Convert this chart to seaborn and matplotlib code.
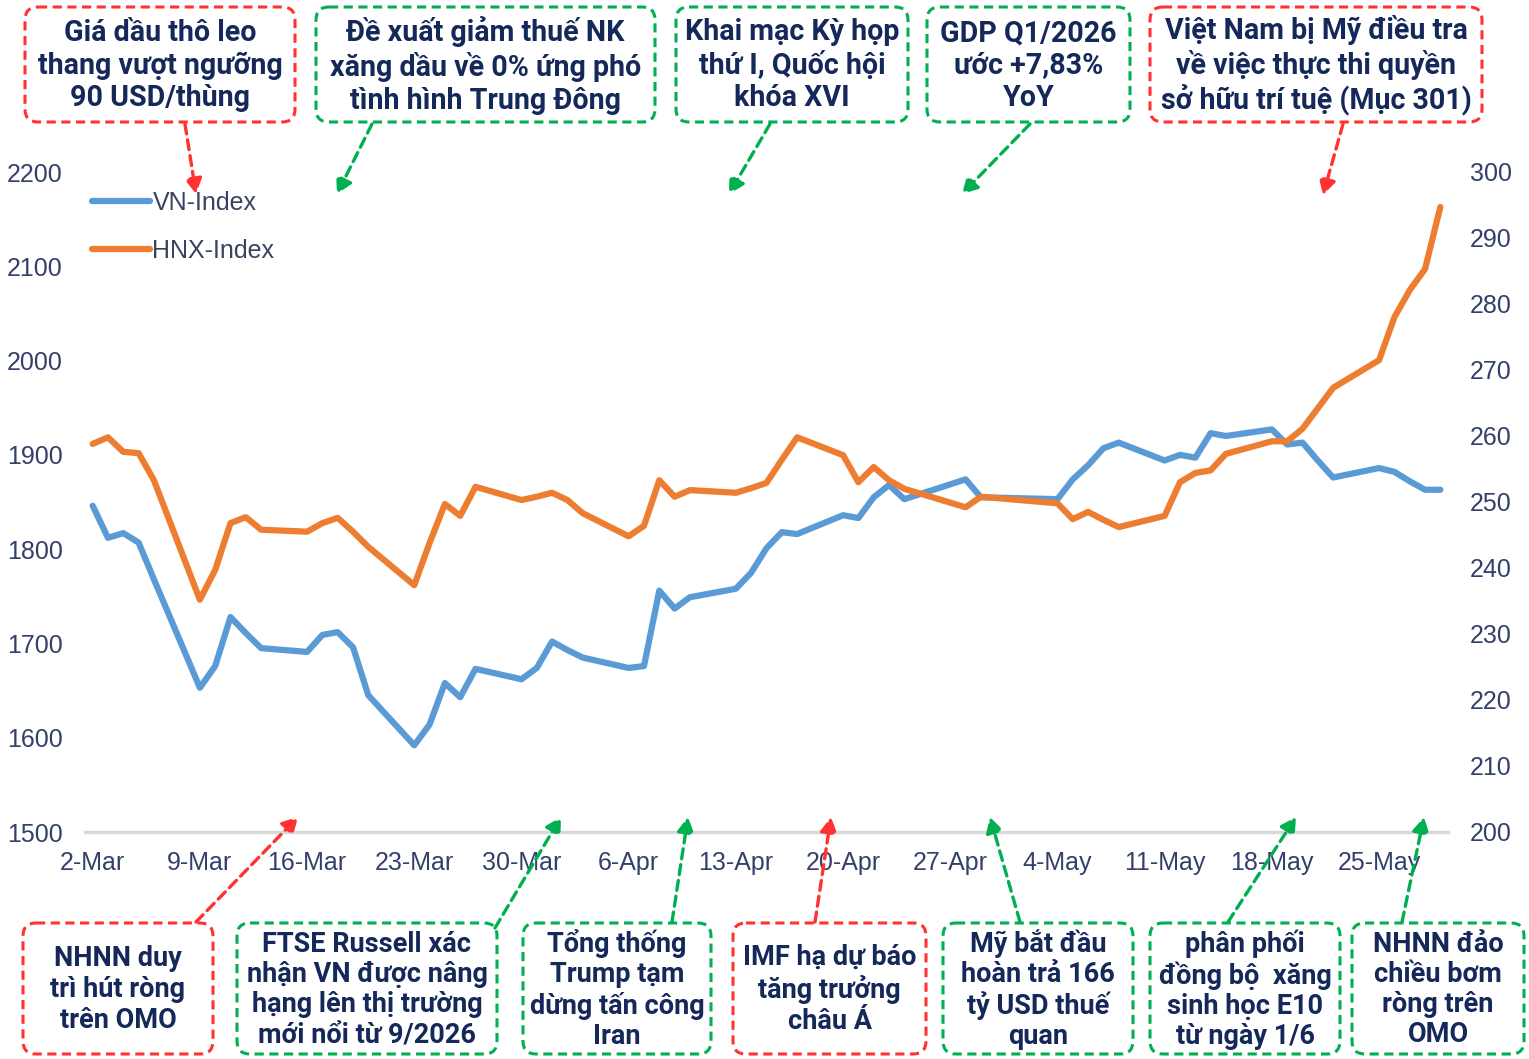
import matplotlib
matplotlib.use('Agg')
import matplotlib.pyplot as plt
import matplotlib.dates as mdates
import matplotlib.ticker as mticker
from matplotlib.patches import FancyBboxPatch
from matplotlib.lines import Line2D
import pandas as pd
import seaborn as sns

# trading days shown on the chart (holidays 27/4, 30/4, 1/5 are missing)
dates = [
    '2026-03-02', '2026-03-03', '2026-03-04', '2026-03-05', '2026-03-06',
    '2026-03-09', '2026-03-10', '2026-03-11', '2026-03-12', '2026-03-13',
    '2026-03-16', '2026-03-17', '2026-03-18', '2026-03-19', '2026-03-20',
    '2026-03-23', '2026-03-24', '2026-03-25', '2026-03-26', '2026-03-27',
    '2026-03-30', '2026-03-31', '2026-04-01', '2026-04-02', '2026-04-03',
    '2026-04-06', '2026-04-07', '2026-04-08', '2026-04-09', '2026-04-10',
    '2026-04-13', '2026-04-14', '2026-04-15', '2026-04-16', '2026-04-17',
    '2026-04-20', '2026-04-21', '2026-04-22', '2026-04-23', '2026-04-24',
    '2026-04-28', '2026-04-29',
    '2026-05-04', '2026-05-05', '2026-05-06', '2026-05-07', '2026-05-08',
    '2026-05-11', '2026-05-12', '2026-05-13', '2026-05-14', '2026-05-15',
    '2026-05-18', '2026-05-19', '2026-05-20', '2026-05-21', '2026-05-22',
    '2026-05-25', '2026-05-26', '2026-05-27', '2026-05-28', '2026-05-29',
]
vn_index = [
    1846, 1812, 1817, 1807, 1768,
    1653, 1676, 1728, 1711, 1695,
    1691, 1709, 1712, 1696, 1645,
    1592, 1614, 1658, 1643, 1673,
    1662, 1674, 1702, 1693, 1685,
    1674, 1676, 1756, 1737, 1749,
    1758, 1775, 1801, 1818, 1816,
    1836, 1833, 1855, 1868, 1853,
    1874, 1855,
    1853, 1874, 1889, 1907, 1913,
    1894, 1900, 1897, 1923, 1920,
    1927, 1911, 1913, 1894, 1876,
    1886, 1882, 1872, 1863, 1863,
]
hnx_index = [
    258.8, 259.8, 257.6, 257.4, 253.3,
    235.2, 239.7, 246.8, 247.7, 245.8,
    245.5, 246.8, 247.6, 245.5, 243.2,
    237.4, 243.8, 249.7, 247.9, 252.3,
    250.3, 250.8, 251.4, 250.3, 248.3,
    244.8, 246.4, 253.3, 250.8, 251.8,
    251.4, 252.1, 252.9, 256.4, 259.8,
    257.1, 253.0, 255.3, 253.3, 252.0,
    249.2, 250.8,
    249.8, 247.4, 248.5, 247.3, 246.2,
    247.9, 253.0, 254.4, 254.8, 257.3,
    259.2, 259.2, 261.1, 264.2, 267.3,
    271.5, 278.0, 282.1, 285.3, 294.7,
]
series_names = ['VN-Index', 'HNX-Index']

top_notes = [
    'Giá dầu thô leo\nthang vượt ngưỡng\n90 USD/thùng',
    'Đề xuất giảm thuế NK\nxăng dầu về 0% ứng phó\ntình hình Trung Đông',
    'Khai mạc Kỳ họp\nthứ I, Quốc hội\nkhóa XVI',
    'GDP Q1/2026\nước +7,83%\nYoY',
    'Việt Nam bị Mỹ điều tra\nvề việc thực thi quyền\nsở hữu trí tuệ (Mục 301)',
]
bottom_notes = [
    'NHNN duy\ntrì hút ròng\ntrên OMO',
    'FTSE Russell xác\nnhận VN được nâng\nhạng lên thị trường\nmới nổi từ 9/2026',
    'Tổng thống\nTrump tạm\ndừng tấn công\nIran',
    'IMF hạ dự báo\ntăng trưởng\nchâu Á',
    'Mỹ bắt đầu\nhoàn trả 166\ntỷ USD thuế\nquan',
    'phân phối\nđồng bộ  xăng\nsinh học E10\ntừ ngày 1/6',
    'NHNN đảo\nchiều bơm\nròng trên\nOMO',
]
top_kind = ['neg', 'pos', 'pos', 'pos', 'neg']
bottom_kind = ['neg', 'pos', 'pos', 'neg', 'pos', 'pos', 'pos']

# layout in figure pixels (x0, y0, x1, y1) and arrow start/end
top_boxes = [(25, 7, 295, 122), (316, 7, 655, 122), (676, 7, 908, 122),
             (927, 7, 1130, 122), (1150, 7, 1482, 122)]
top_arrows = [((185, 124), (196, 194)), ((372, 124), (337, 194)),
              ((770, 124), (729, 194)), ((1030, 124), (962, 194)),
              ((1343, 124), (1323, 195))]
bottom_boxes = [(23, 923, 213, 1054), (237, 923, 497, 1054), (523, 923, 711, 1054),
                (733, 923, 926, 1054), (943, 923, 1133, 1054),
                (1150, 923, 1340, 1054), (1352, 923, 1524, 1054)]
bottom_arrows = [((196, 922), (298, 817)), ((495, 928), (561, 817)),
                 ((672, 922), (688, 817)), ((815, 922), (831, 817)),
                 ((1020, 922), (990, 817)), ((1228, 922), (1296, 817)),
                 ((1402, 922), (1424, 817))]

BLUE = '#5b9bd5'
ORANGE = '#ed7d31'
RED = '#ff3131'
GREEN = '#00b050'
NAVY = '#14285a'
TICK = '#34406a'

sns.set_style('white')
plt.rcParams['font.family'] = ['Liberation Sans', 'DejaVu Sans']

W, H = 1529, 1059
fig = plt.figure(figsize=(W / 100, H / 100), dpi=100)
ax = fig.add_axes([85 / W, 1 - 832 / H, (1448 - 85) / W, (832 - 172) / H])
ax2 = ax.twinx()

x = pd.to_datetime(dates)
sns.lineplot(x=x, y=vn_index, ax=ax, color=BLUE, linewidth=4.5)
sns.lineplot(x=x, y=hnx_index, ax=ax2, color=ORANGE, linewidth=4.5)

half = pd.Timedelta(hours=12)
ax.set_xlim(x[0] - half, x[-1] + half)
ax.set_ylim(1500, 2200)
ax2.set_ylim(200, 300)
ax.yaxis.set_major_locator(mticker.MultipleLocator(100))
ax2.yaxis.set_major_locator(mticker.MultipleLocator(10))

# week boundaries as tick marks, Monday labels in between
bounds = pd.date_range(x[0] - half, x[-1] + half, freq='7D')
ax.xaxis.set_major_locator(mticker.FixedLocator(mdates.date2num(bounds)))
ax.xaxis.set_major_formatter(mticker.NullFormatter())
ax.xaxis.set_minor_locator(mdates.WeekdayLocator(byweekday=mdates.MO))
ax.xaxis.set_minor_formatter(mdates.DateFormatter('%-d-%b'))
ax.tick_params(axis='x', which='major', length=9, width=1.5, color='#d9d9d9', direction='out')
ax.tick_params(axis='x', which='minor', length=0, pad=14, labelsize=18, labelcolor=TICK)
ax.tick_params(axis='y', length=0, pad=16, labelsize=18, labelcolor=TICK)
ax2.tick_params(axis='y', length=0, pad=16, labelsize=18, labelcolor=TICK)
ax.set_xlabel('')
ax.set_ylabel('')
ax2.set_ylabel('')

for a in (ax, ax2):
    for s in ('top', 'left', 'right', 'bottom'):
        a.spines[s].set_visible(False)
ax.spines['bottom'].set_visible(True)
ax.spines['bottom'].set_color('#d9d9d9')
ax.spines['bottom'].set_linewidth(2.5)

handles = [Line2D([], [], color=BLUE, lw=4.5), Line2D([], [], color=ORANGE, lw=4.5)]
leg = ax.legend(handles, series_names, loc='upper left', bbox_to_anchor=(92 / W, 1 - 191 / H),
                bbox_transform=fig.transFigure, frameon=False, fontsize=18,
                handlelength=2.3, handletextpad=0.12, labelspacing=0.95,
                borderpad=0, borderaxespad=0)
for t in leg.get_texts():
    t.set_color('#3a4260')

# overlay in pixel coordinates for the event boxes
ov = fig.add_axes([0, 0, 1, 1], zorder=5)
ov.set_xlim(0, W)
ov.set_ylim(H, 0)
ov.axis('off')


def draw_box(box, text, kind, size, spacing):
    x0, y0, x1, y1 = box
    c = RED if kind == 'neg' else GREEN
    ov.add_patch(FancyBboxPatch((x0, y0), x1 - x0, y1 - y0,
                                boxstyle='round,pad=0,rounding_size=13',
                                fc='white', ec=c, lw=2.2, ls=(0, (3, 1.8))))
    ov.text((x0 + x1) / 2, (y0 + y1) / 2 + 1, text, ha='center', va='center',
            fontsize=size, fontweight='bold', family='Roboto', color=NAVY,
            linespacing=spacing)


def draw_arrow(start, end, kind):
    c = RED if kind == 'neg' else GREEN
    ov.annotate('', xy=end, xytext=start,
                arrowprops=dict(arrowstyle='-|>,head_length=0.9,head_width=0.5',
                                color=c, lw=2.4, linestyle=(0, (3, 1.8)),
                                shrinkA=0, shrinkB=0))


for box, txt, k, arr in zip(top_boxes, top_notes, top_kind, top_arrows):
    draw_box(box, txt, k, 20.6, 1.2)
    draw_arrow(arr[0], arr[1], k)

for box, txt, k, arr in zip(bottom_boxes, bottom_notes, bottom_kind, bottom_arrows):
    nlines = txt.count('\n') + 1
    draw_box(box, txt, k, 19.5, 1.15 if nlines == 4 else 1.2)
    draw_arrow(arr[0], arr[1], k)

fig.savefig('out.png', dpi=100)
